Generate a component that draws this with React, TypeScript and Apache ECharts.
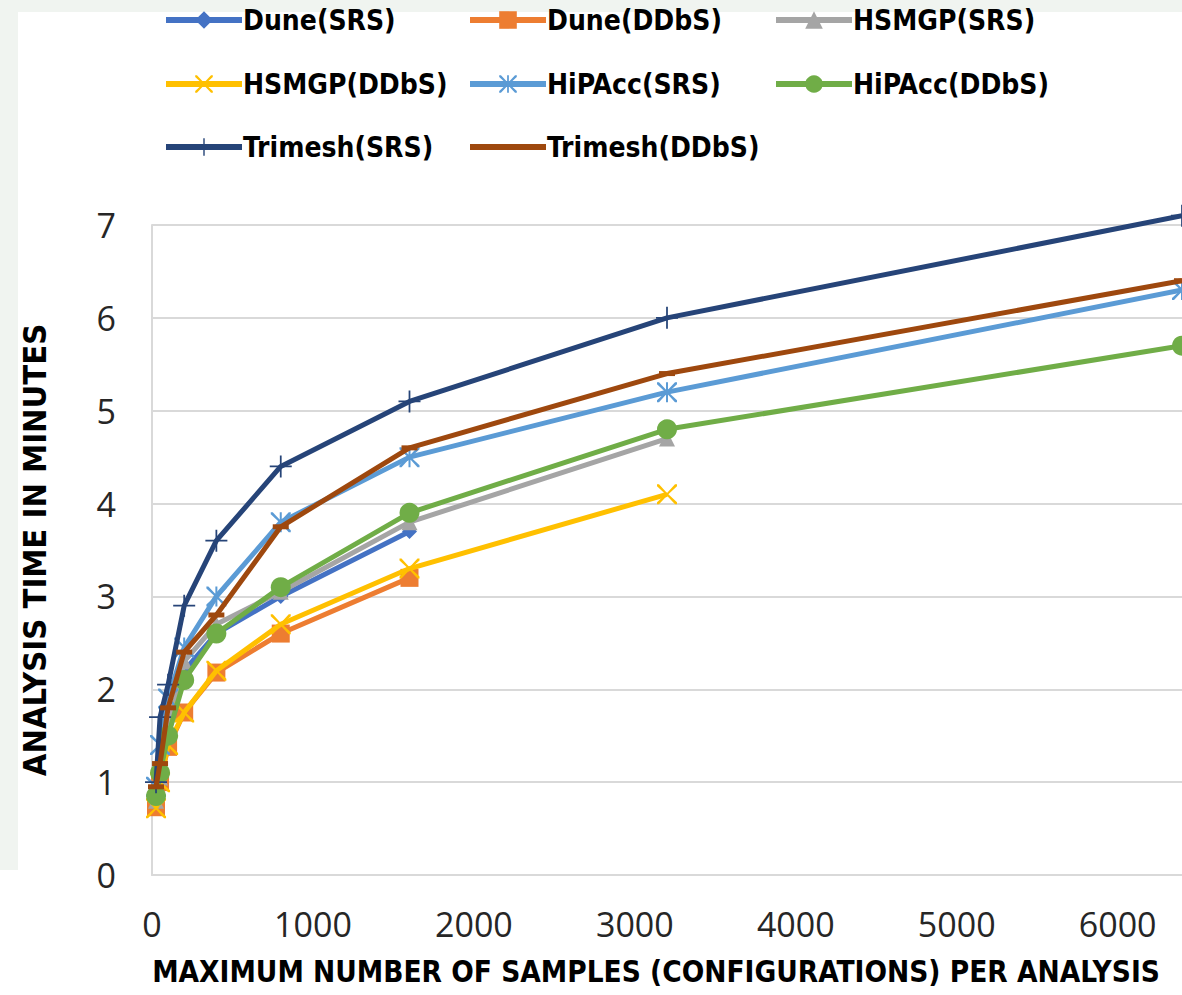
import React, { useEffect, useRef } from "react";
import * as echarts from "echarts";

const xValues = [25, 50, 100, 200, 400, 800, 1600, 3200, 6400];
const duneSRS = [0.8, 1.05, 1.5, 2.2, 2.6, 3.0, 3.7];
const duneDDbS = [0.73, 1.0, 1.38, 1.75, 2.18, 2.6, 3.2];
const hsmgpSRS = [0.8, 1.05, 1.55, 2.3, 2.7, 3.05, 3.8, 4.7];
const hsmgpDDbS = [0.72, 1.0, 1.4, 1.75, 2.2, 2.7, 3.3, 4.1];
const hipaccSRS = [0.95, 1.4, 1.9, 2.45, 3.0, 3.8, 4.5, 5.2, 6.3];
const hipaccDDbS = [0.85, 1.1, 1.5, 2.1, 2.6, 3.1, 3.9, 4.8, 5.7];
const trimeshSRS = [1.0, 1.7, 2.05, 2.9, 3.6, 4.4, 5.1, 6.0, 7.1];
const trimeshDDbS = [0.95, 1.2, 1.8, 2.4, 2.8, 3.75, 4.6, 5.4, 6.4];

const seriesNames = [
  "Dune(SRS)",
  "Dune(DDbS)",
  "HSMGP(SRS)",
  "HSMGP(DDbS)",
  "HiPAcc(SRS)",
  "HiPAcc(DDbS)",
  "Trimesh(SRS)",
  "Trimesh(DDbS)",
];
const seriesValues = [duneSRS, duneDDbS, hsmgpSRS, hsmgpDDbS, hipaccSRS, hipaccDDbS, trimeshSRS, trimeshDDbS];
const colors = ["#4472C4", "#ED7D31", "#A5A5A5", "#FFC000", "#5B9BD5", "#70AD47", "#264478", "#9E480E"];

const xPath = "path://M0,0 L1,0 L5,4.3 L9,0 L10,0 L10,1 L5.7,5 L10,9 L10,10 L9,10 L5,5.7 L1,10 L0,10 L0,9 L4.3,5 L0,1 Z";
const plusPath = "path://M4.6,0 H5.4 V4.6 H10 V5.4 H5.4 V10 H4.6 V5.4 H0 V4.6 H4.6 Z";
const starPath =
  "path://M0,0 L1,0 L5,4.3 L9,0 L10,0 L10,1 L5.7,5 L10,9 L10,10 L9,10 L5,5.7 L1,10 L0,10 L0,9 L4.3,5 L0,1 Z M4.5,0 H5.5 V10 H4.5 Z";

const symbols: any[] = ["diamond", "rect", "triangle", xPath, starPath, "circle", plusPath, "rect"];
const symbolSizes: any[] = [15, 18, 16, 20, 20, 20, 22, [16, 5]];

const legendPos = [
  [163, 6],
  [467, 6],
  [773, 6],
  [163, 70],
  [467, 70],
  [773, 70],
  [163, 133],
  [467, 133],
];

const FONT = "'Liberation Sans Narrow', 'DejaVu Sans Condensed', 'Open Sans', sans-serif";
const TICK_FONT = "'Open Sans', sans-serif";

export default function App() {
  const ref = useRef<HTMLDivElement>(null);
  useEffect(() => {
    if (!ref.current) return;
    const chart = echarts.init(ref.current, null, { renderer: "svg" });
    const series = seriesNames.map((name, i) => ({
      name,
      type: "line",
      data: seriesValues[i].map((v, j) => [xValues[j], v]),
      symbol: symbols[i],
      symbolSize: symbolSizes[i],
      showAllSymbol: true,
      clip: false,
      lineStyle: { color: colors[i], width: 5 },
      itemStyle: { color: colors[i] },
      z: 2 + i,
    }));
    const legends = seriesNames.map((name, i) => {
      const plain = i === 7;
      return {
        data: [plain ? { name, itemStyle: { opacity: 0 } } : name],
        left: legendPos[i][0],
        top: legendPos[i][1],
        itemWidth: 76,
        itemHeight: 22,
        itemGap: 0,
        padding: 0,
        lineStyle: { width: 6 },
        textStyle: { fontFamily: FONT, fontSize: 28, fontWeight: "bold", color: "#000", padding: [0, 0, 0, -4] },
        selectedMode: false,
      };
    });
    chart.setOption({
      animation: false,
      backgroundColor: "#ffffff",
      graphic: [
        { type: "rect", shape: { x: 0, y: 0, width: 1182, height: 12 }, style: { fill: "#f0f4f0" }, silent: true },
        { type: "rect", shape: { x: 0, y: 0, width: 18, height: 870 }, style: { fill: "#f0f4f0" }, silent: true },
      ],
      legend: legends,
      grid: { left: 152, right: 0, top: 225, bottom: 120, containLabel: false, outerBoundsMode: "none" },
      xAxis: {
        type: "value",
        min: 0,
        max: 6400,
        interval: 1000,
        name: "MAXIMUM NUMBER OF SAMPLES (CONFIGURATIONS) PER ANALYSIS",
        nameLocation: "middle",
        nameGap: 82,
        nameTextStyle: {
          fontFamily: FONT,
          fontSize: 29.5,
          fontWeight: "bold",
          color: "#000",
          padding: [0, 22, 0, 0],
        },
        axisLine: { show: true, lineStyle: { color: "#d9d9d9", width: 2 } },
        axisTick: { show: false },
        splitLine: { show: false },
        axisLabel: {
          showMaxLabel: false,
          margin: 32,
          fontFamily: TICK_FONT,
          fontSize: 34,
          color: "#262626",
          formatter: (v: number) => String(v),
        },
      },
      yAxis: {
        type: "value",
        min: 0,
        max: 7,
        interval: 1,
        name: "ANALYSIS TIME IN MINUTES",
        nameLocation: "middle",
        nameGap: 101,
        nameRotate: 90,
        nameTextStyle: { fontFamily: FONT, fontSize: 32.5, fontWeight: "bold", color: "#000" },
        axisLine: { show: true, lineStyle: { color: "#d9d9d9", width: 2 } },
        axisTick: { show: false },
        splitLine: { show: true, lineStyle: { color: "#d9d9d9", width: 2 } },
        axisLabel: {
          margin: 36,
          fontFamily: TICK_FONT,
          fontSize: 34,
          color: "#262626",
        },
      },
      series,
    });
    return () => chart.dispose();
  }, []);
  return (
    <div
      ref={ref}
      style={{ position: "absolute", left: 0, top: 0, width: 1182, height: 995, background: "#fff" }}
    />
  );
}
